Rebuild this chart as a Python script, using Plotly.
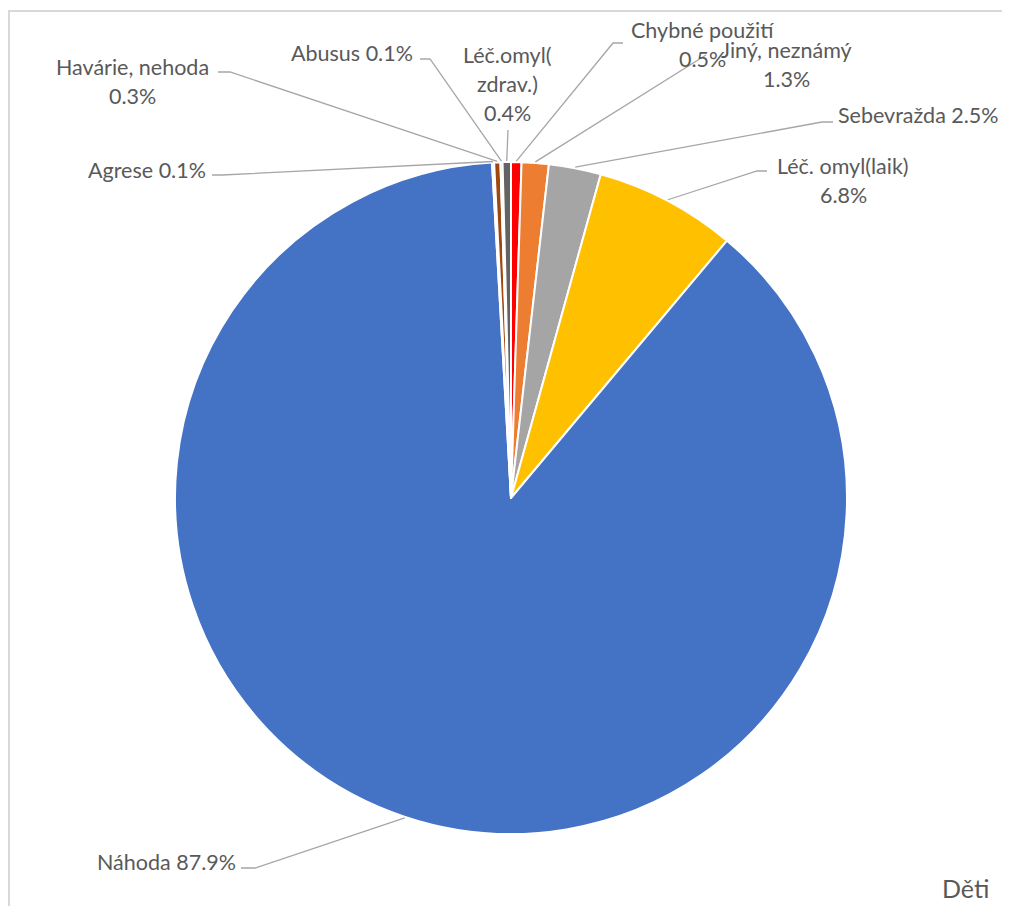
import math
import plotly.graph_objects as go

# ---- data (clockwise from 12 o'clock) ----
labels = ["Chybné použití", "Jiný, neznámý", "Sebevražda", "Léč. omyl(laik)", "Náhoda",
          "Agrese", "Havárie, nehoda", "Abusus", "Léč.omyl(zdrav.)"]
values = [0.5, 1.3, 2.5, 6.8, 87.9, 0.1, 0.3, 0.1, 0.4]
colors = ["#FF0000", "#ED7D31", "#A5A5A5", "#FFC000", "#4472C4",
          "#F2F2F2", "#9E480E", "#264478", "#636363"]
# how each label is broken into lines on the chart
label_lines = [
    ["Chybné použití", "{v}%"],
    ["Jiný, neznámý", "{v}%"],
    ["Sebevražda {v}%"],
    ["Léč. omyl(laik)", "{v}%"],
    ["Náhoda {v}%"],
    ["Agrese {v}%"],
    ["Havárie, nehoda", "{v}%"],
    ["Abusus {v}%"],
    ["Léč.omyl(", "zdrav.)", "{v}%"],
]
title_text = "Děti"

# ---- layout geometry (pixels of the 1010x914 window) ----
OFF = 8                      # page body margin
FW, FH = 994, 898            # figure size so page fits the window
cx, cy, R = 511, 498, 336
TXT = "#595959"
FONT = "Lato"
FS = 21.5
LINE_GAP = 29


def px(x):
    return (x - OFF) / FW


def py(y):
    return 1 - (y - OFF) / FH


# label block positions: (x, y of first line, xanchor)
label_pos = [
    (702, 30, "center"),
    (786, 50, "center"),
    (1001, 115, "right"),
    (843, 166, "center"),
    (238, 862, "right"),
    (208, 170, "right"),
    (132, 67, "center"),
    (415, 53, "right"),
    (507, 55, "center"),
]
# leader line points on label side (pixels)
leader_pts = [
    [(623, 43), (613, 43)],
    [(706, 55)],
    [(833, 122), (822, 122)],
    [(767, 171), (757, 171)],
    [(241, 868), (255, 868)],
    [(212, 175), (222, 175)],
    [(218, 72), (230, 72)],
    [(420, 59), (430, 59)],
    [(508, 130)],
]

fig = go.Figure(go.Pie(
    labels=labels, values=values, sort=False, direction="clockwise", rotation=0,
    marker=dict(colors=colors, line=dict(color="white", width=2)),
    textinfo="none", hoverinfo="label+percent", showlegend=False,
    domain=dict(x=[px(cx - R), px(cx + R)], y=[py(cy + R), py(cy - R)]),
))

total = sum(values)
shapes = []
annotations = []
cum = 0.0
for i, v in enumerate(values):
    mid = (cum + v / 2) / total * 2 * math.pi
    cum += v
    ex = cx + (R + 1) * math.sin(mid)
    ey = cy - (R + 1) * math.cos(mid)
    pts = leader_pts[i] + [(ex, ey)]
    path = "M " + " L ".join(f"{px(x):.5f},{py(y):.5f}" for x, y in pts)
    shapes.append(dict(type="path", xref="paper", yref="paper", path=path,
                       line=dict(color="#A6A6A6", width=1.3)))
    lx, ly, anc = label_pos[i]
    for k, ln in enumerate(label_lines[i]):
        annotations.append(dict(
            text=ln.format(v=v), x=px(lx), y=py(ly + k * LINE_GAP), xref="paper", yref="paper",
            xanchor=anc, yanchor="middle", showarrow=False,
            font=dict(family=FONT, size=FS, color=TXT)))

annotations.append(dict(text=title_text, x=px(991), y=py(888), xref="paper", yref="paper",
                        xanchor="right", yanchor="middle", showarrow=False,
                        font=dict(family=FONT, size=25, color=TXT)))

# chart area border
shapes.append(dict(type="rect", xref="paper", yref="paper", x0=px(9), y0=py(930), x1=px(1030), y1=py(11),
                   line=dict(color="#D9D9D9", width=2), layer="below"))

fig.update_layout(width=FW, height=FH, margin=dict(l=0, r=0, t=0, b=0),
                  paper_bgcolor="white", plot_bgcolor="white",
                  shapes=shapes, annotations=annotations)
fig.write_html("out.html")
